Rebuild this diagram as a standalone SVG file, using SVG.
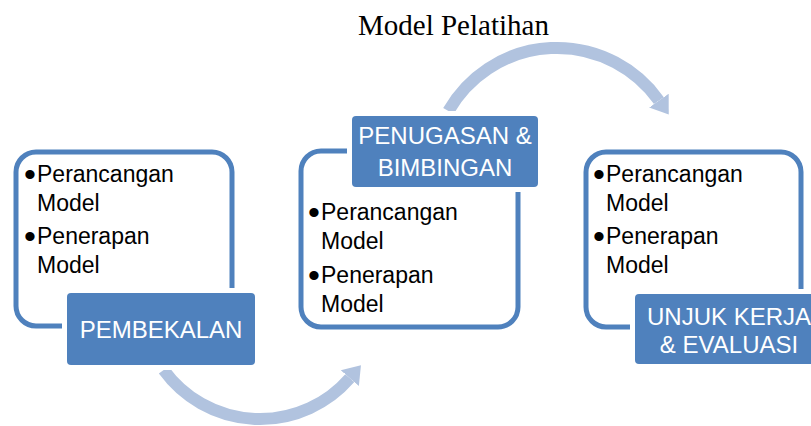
<svg xmlns="http://www.w3.org/2000/svg" width="811" height="426" viewBox="0 0 811 426">
  <style>
    .frame { fill: #ffffff; stroke: #4f81bd; stroke-width: 5; }
    .label { fill: #4f81bd; stroke: #ffffff; stroke-width: 10; paint-order: stroke; }
    .body { font-family: "Liberation Sans", Arial, sans-serif; font-size: 23px; fill: #000000; }
    .bul { font-family: "Liberation Sans", Arial, sans-serif; font-size: 34px; fill: #000000; }
    .lbl { font-family: "Liberation Sans", Arial, sans-serif; font-size: 24px; fill: #ffffff; text-anchor: middle; }
    .title { font-family: "Liberation Serif", "Times New Roman", serif; font-size: 29px; fill: #000000; }
    .arc { fill: none; stroke: #b1c3df; stroke-width: 12; }
  </style>
  <defs>
    <marker id="head" markerUnits="userSpaceOnUse" markerWidth="20" markerHeight="26" refX="0" refY="12" orient="auto" viewBox="0 0 20 24">
      <path d="M0,0 L17,12 L0,24 Z" fill="#b1c3df"/>
    </marker>
  </defs>
  <rect width="811" height="426" fill="#ffffff"/>

  <text id="title" class="title" x="358" y="35">Model Pelatihan</text>

  <g id="connectors">
    <path class="arc" d="M163.7,370 A119,119 0 0 0 349.8,378.1" marker-end="url(#head)"/>
    <path class="arc" d="M448.4,111 A125,125 0 0 1 658.9,100.6" marker-end="url(#head)"/>
  </g>

  <g id="pembekalan">
    <rect class="frame" x="16" y="152" width="216" height="174" rx="20"/>
    <text class="bul" x="24" y="186">•</text>
    <text class="body" x="37" y="182">Perancangan</text>
    <text class="body" x="37" y="211">Model</text>
    <text class="bul" x="24" y="248">•</text>
    <text class="body" x="37" y="244">Penerapan</text>
    <text class="body" x="37" y="273">Model</text>
    <rect class="label" x="67" y="293" width="188" height="72" rx="4"/>
    <text class="lbl" x="161" y="338">PEMBEKALAN</text>
  </g>

  <g id="penugasan">
    <rect class="frame" x="301" y="151" width="217" height="176" rx="20"/>
    <text class="bul" x="308" y="224">•</text>
    <text class="body" x="321" y="220">Perancangan</text>
    <text class="body" x="321" y="249">Model</text>
    <text class="bul" x="308" y="287">•</text>
    <text class="body" x="321" y="283">Penerapan</text>
    <text class="body" x="321" y="312">Model</text>
    <rect class="label" x="352" y="116" width="186" height="71" rx="4"/>
    <text class="lbl" x="445" y="144">PENUGASAN &amp;</text>
    <text class="lbl" x="445" y="176">BIMBINGAN</text>
  </g>

  <g id="unjuk-kerja">
    <rect class="frame" x="586" y="152" width="215" height="175" rx="20"/>
    <text class="bul" x="593" y="186">•</text>
    <text class="body" x="606" y="182">Perancangan</text>
    <text class="body" x="606" y="211">Model</text>
    <text class="bul" x="593" y="248">•</text>
    <text class="body" x="606" y="244">Penerapan</text>
    <text class="body" x="606" y="273">Model</text>
    <rect class="label" x="635" y="294" width="188" height="70" rx="4"/>
    <text class="lbl" x="729" y="325">UNJUK KERJA</text>
    <text class="lbl" x="729" y="353">&amp; EVALUASI</text>
  </g>
</svg>
